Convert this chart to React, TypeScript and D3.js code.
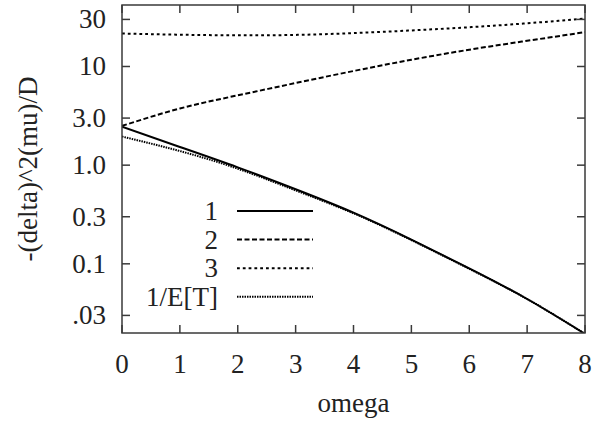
import React from "react";
import * as d3 from "d3";

const omega = [0, 1, 2, 3, 4, 5, 6, 7, 8];
const series1 = [2.45, 1.53, 0.95, 0.57, 0.33, 0.176, 0.09, 0.044, 0.0195];
const series2 = [2.5, 3.75, 5.1, 6.8, 9.0, 11.7, 14.8, 18.2, 22.3];
const series3 = [21.6, 21.0, 20.7, 20.9, 21.8, 23.2, 25.0, 27.4, 30.6];
const invET = [1.95, 1.39, 0.92, 0.555, 0.325, 0.174, 0.089, 0.044, 0.0195];

const xTicks = [0, 1, 2, 3, 4, 5, 6, 7, 8];
const yTicks = [30, 10, 3, 1, 0.3, 0.1, 0.03];
const yTickLabels = ["30", "10", "3.0", "1.0", "0.3", "0.1", ".03"];

const legend = [
  { label: "1", values: series1, dash: "none" },
  { label: "2", values: series2, dash: "5,2.5" },
  { label: "3", values: series3, dash: "2.8,3" },
  { label: "1/E[T]", values: invET, dash: "1.5,1" },
];

const W = 592;
const H = 425;
const margin = { top: 5, bottom: 92, left: 122, right: 7 };
const font = "'Liberation Serif'";
const axisColor = "#3a3a3a";
const textColor = "#222";
const tl = 8;

const x = d3
  .scaleLinear()
  .domain([0, 8])
  .range([margin.left, W - margin.right]);
const y = d3
  .scaleLog()
  .domain([0.0199, 42])
  .range([H - margin.bottom, margin.top]);

const line = d3
  .line<number>()
  .x((_, i) => x(omega[i]))
  .y((d) => y(d))
  .curve(d3.curveNatural);

const App = () => {
  const [y0, y1] = y.range();
  const [x0, x1] = x.range();
  const ts = { fontFamily: font };
  return (
    <svg width={W} height={H} style={{ position: "absolute", left: 0, top: 0 }}>
      <defs>
        <clipPath id="plot">
          <rect x={x0} y={y1} width={x1 - x0} height={y0 - y1} />
        </clipPath>
      </defs>

      {/* curves */}
      <g clipPath="url(#plot)">
        {legend.map((d) => (
          <path
            key={d.label}
            d={line(d.values) || ""}
            fill="none"
            stroke="#000"
            strokeWidth={2}
            strokeDasharray={d.dash}
          />
        ))}
      </g>

      {/* frame and ticks */}
      <g stroke={axisColor} strokeWidth={1.5}>
        <rect x={x0} y={y1} width={x1 - x0} height={y0 - y1} fill="none" />
        {xTicks.map((t) => (
          <g key={"x" + t}>
            <line x1={x(t)} x2={x(t)} y1={y0} y2={y0 - tl} />
            <line x1={x(t)} x2={x(t)} y1={y1} y2={y1 + tl} />
          </g>
        ))}
        {yTicks.map((t) => (
          <g key={"y" + t}>
            <line x1={x0} x2={x0 + tl} y1={y(t)} y2={y(t)} />
            <line x1={x1} x2={x1 - tl} y1={y(t)} y2={y(t)} />
          </g>
        ))}
      </g>

      <g fill={textColor} fontSize={27}>
        {xTicks.map((t) => (
          <text key={"xl" + t} x={x(t)} y={373} textAnchor="middle" style={ts}>
            {t}
          </text>
        ))}
        {yTicks.map((t, i) => (
          <text key={"yl" + t} x={106} y={y(t)} dy="0.33em" textAnchor="end" style={ts}>
            {yTickLabels[i]}
          </text>
        ))}
        <text x={(x0 + x1) / 2} y={412} textAnchor="middle" style={ts}>
          omega
        </text>
        <text transform="translate(37,169) rotate(-90)" textAnchor="middle" style={ts}>
          -(delta)^2(mu)/D
        </text>

        {/* legend */}
        {legend.map((d, i) => {
          const ly = 211 + i * 28.6;
          return (
            <g key={"lg" + d.label}>
              <text x={218} y={ly} dy="0.33em" textAnchor="end" style={ts}>
                {d.label}
              </text>
              <line
                x1={237}
                x2={313}
                y1={ly}
                y2={ly}
                stroke="#000"
                strokeWidth={2}
                strokeDasharray={d.dash}
              />
            </g>
          );
        })}
      </g>
    </svg>
  );
};

export default App;
